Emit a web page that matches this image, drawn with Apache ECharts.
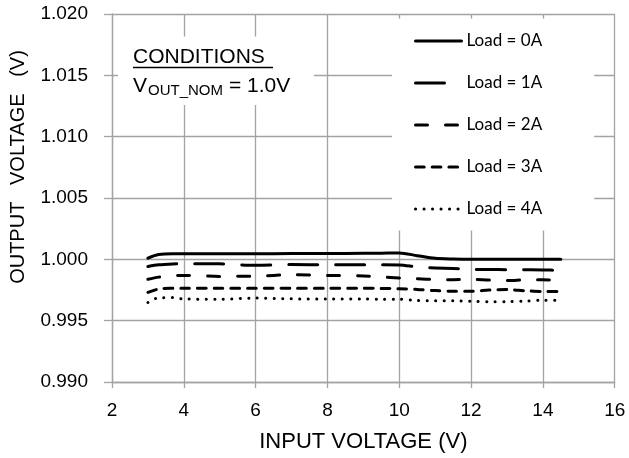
<!DOCTYPE html>
<html>
<head>
<meta charset="utf-8">
<script src="https://cdn.jsdelivr.net/npm/echarts@6/dist/echarts.min.js"></script>
<style>html,body{margin:0;padding:0;background:#fff}#c{width:629px;height:458px}</style>
</head>
<body>
<div id="c"></div>
<script>
var vin = [3.0, 3.3, 3.7, 4, 5, 6, 7, 8, 9, 9.5, 10, 10.5, 11, 11.5, 12, 12.5, 13, 13.5, 14, 14.5];
var load0A = [1.0001, 1.0004, 1.00045, 1.00045, 1.00045, 1.00045, 1.00047, 1.00048, 1.00049, 1.0005, 1.00052, 1.0003, 1.00008, 1.00002, 1.0000, 1.0000, 1.0000, 1.0000, 1.0000, 1.0000];
var load1A = [0.99942, 0.99955, 0.99962, 0.99964, 0.99963, 0.99951, 0.99957, 0.99956, 0.99955, 0.99955, 0.99954, 0.99938, 0.9993, 0.99925, 0.99918, 0.99917, 0.99916, 0.99915, 0.99914, 0.99909];
var load2A = [0.99837, 0.99855, 0.99866, 0.99869, 0.99861, 0.99862, 0.99875, 0.99869, 0.99864, 0.99856, 0.99848, 0.99842, 0.99835, 0.99834, 0.99837, 0.99831, 0.99827, 0.99833, 0.99834, 0.99826];
var load3A = [0.99731, 0.99758, 0.99764, 0.99765, 0.99764, 0.99764, 0.99765, 0.99765, 0.99764, 0.99763, 0.9976, 0.99755, 0.99745, 0.9974, 0.9974, 0.99749, 0.99754, 0.99744, 0.99738, 0.99737];
var load4A = [0.99648, 0.99687, 0.99688, 0.99677, 0.99675, 0.99684, 0.99678, 0.99677, 0.99676, 0.99675, 0.99675, 0.99664, 0.99662, 0.99662, 0.99658, 0.99654, 0.99655, 0.99659, 0.99667, 0.99667];
var seriesNames = ['Load = 0A', 'Load = 1A', 'Load = 2A', 'Load = 3A', 'Load = 4A'];
var xTicks = [2, 4, 6, 8, 10, 12, 14, 16];
var yTicks = ['0.990', '0.995', '1.000', '1.005', '1.010', '1.015', '1.020'];

var allValues = [load0A, load1A, load2A, load3A, load4A];
var dashes = ['solid', [29, 18], [12, 18], [8.7, 8], [0.1, 8.4]];

function pairs(ys) { return vin.map(function (x, i) { return [x, ys[i]]; }); }

var gridColor = '#a3a3a3';
var font = '"Liberation Sans", Arial, sans-serif';

var series = allValues.map(function (vals, i) {
  return {
    name: seriesNames[i],
    type: 'line',
    data: pairs(vals),
    symbol: 'none',
    smooth: 0.3,
    silent: true,
    animation: false,
    itemStyle: { color: '#000' },
    lineStyle: { color: '#000', width: 3, type: dashes[i], cap: 'round', join: 'round' }
  };
});

var chart = echarts.init(document.getElementById('c'), null, { renderer: 'canvas' });
chart.setOption({
  animation: false,
  backgroundColor: '#fff',
  grid: { left: 105, right: 14.3, top: 14, bottom: 73 },
  xAxis: {
    type: 'value', min: xTicks[0], max: xTicks[xTicks.length - 1], interval: 2,
    name: 'INPUT VOLTAGE (V)', nameLocation: 'middle', nameGap: 49,
    nameTextStyle: { color: '#000', fontSize: 22, fontFamily: font },
    axisLine: { show: true, lineStyle: { color: gridColor, width: 1.3 } },
    axisTick: { show: true, length: 6, lineStyle: { color: gridColor, width: 1.3 } },
    axisLabel: { color: '#000', fontSize: 19, fontFamily: font, margin: 19 },
    splitLine: { show: true, lineStyle: { color: gridColor, width: 1.3 } }
  },
  yAxis: {
    type: 'value', min: 0.990, max: 1.020, interval: 0.005,
    name: 'OUTPUT   VOLTAGE   (V)', nameLocation: 'middle', nameGap: 84,
    nameTextStyle: { color: '#000', fontSize: 20, fontFamily: font, padding: [0, 0, 0, 62] },
    axisLine: { show: true, lineStyle: { color: gridColor, width: 1.3 } },
    axisTick: { show: true, length: 8, lineStyle: { color: gridColor, width: 1.3 } },
    axisLabel: { color: '#000', fontSize: 19, fontFamily: font, margin: 24,
      formatter: function (v) { var s = v.toFixed(3); return yTicks.indexOf(s) >= 0 ? s : ''; } },
    splitLine: { show: true, lineStyle: { color: gridColor, width: 1.3 } }
  },
  legend: {
    show: true, orient: 'vertical', left: 392, top: 18.5,
    backgroundColor: '#fff',
    padding: [14, 52, 13, 22],
    itemWidth: 46, itemHeight: 17, itemGap: 25,
    data: seriesNames,
    itemStyle: { opacity: 0 },
    lineStyle: { width: 3 },
    textStyle: { color: '#000', fontSize: 17, fontFamily: 'Lato, "Open Sans", sans-serif' },
    selectedMode: false
  },
  graphic: [
    { type: 'rect', z: 100, shape: { x: 118, y: 36.5, width: 196, height: 68.5 }, style: { fill: '#fff' } },
    { type: 'text', z: 101, x: 133, y: 47.2, style: { text: 'CONDITIONS', font: '21px "Liberation Sans", Arial, sans-serif', fill: '#000', verticalAlign: 'top', align: 'left' } },
    { type: 'line', z: 101, shape: { x1: 133, y1: 67.5, x2: 273, y2: 67.5 }, style: { stroke: '#000', lineWidth: 1.6 } },
    { type: 'text', z: 101, x: 133, y: 75.5, style: { text: 'V', font: '21px "Liberation Sans", Arial, sans-serif', fill: '#000', verticalAlign: 'top', align: 'left' } },
    { type: 'text', z: 101, x: 148, y: 83, style: { text: 'OUT_NOM', font: '15px "Liberation Sans", Arial, sans-serif', fill: '#000', verticalAlign: 'top', align: 'left' } },
    { type: 'text', z: 101, x: 229, y: 75.5, style: { text: '= 1.0V', font: '21px "Liberation Sans", Arial, sans-serif', fill: '#000', verticalAlign: 'top', align: 'left' } }
  ],
  series: series
});
</script>
</body>
</html>
